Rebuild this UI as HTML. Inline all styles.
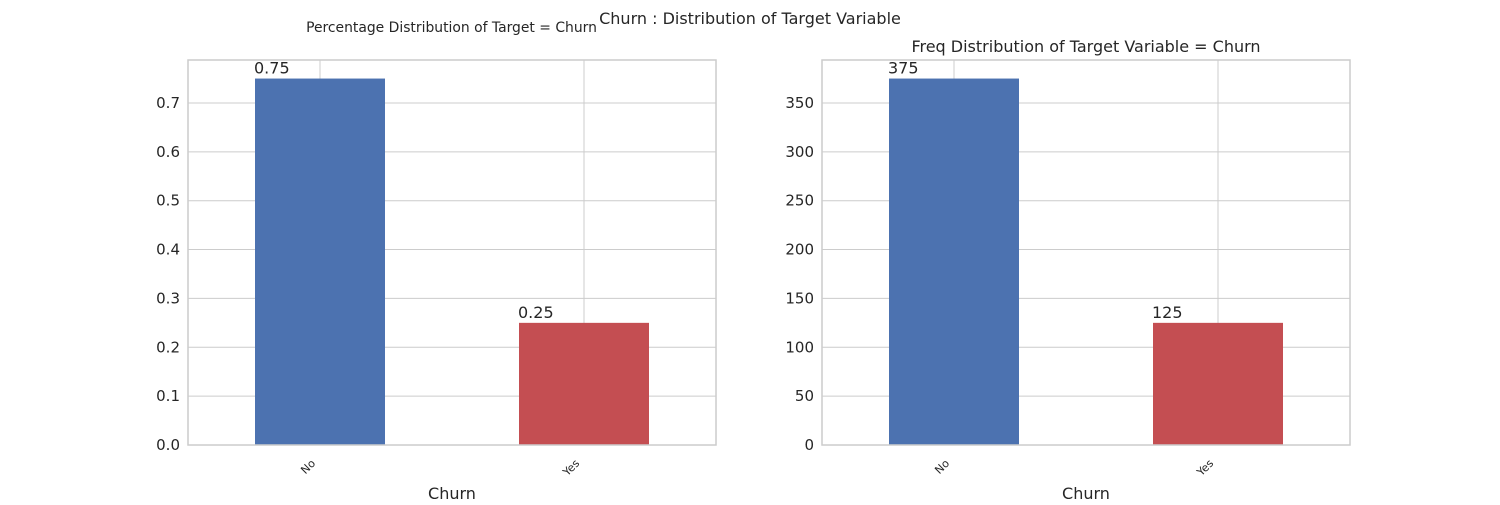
<!DOCTYPE html>
<html><head><meta charset="utf-8"><style>
body{margin:0;background:#fff;}
svg text{font-family:"DejaVu Sans","Liberation Sans",sans-serif;fill:#262626;}
</style></head><body>
<svg id="chart" width="1500" height="500" xmlns="http://www.w3.org/2000/svg">
<rect width="1500" height="500" fill="#fff"/>
<text x="750" y="24" font-size="16" text-anchor="middle">Churn : Distribution of Target Variable</text>
</svg>
<script>
const categories = ["No", "Yes"];
const pctValues = [0.75, 0.25];
const pctLabels = ["0.75", "0.25"];
const freqValues = [375, 125];
const freqLabels = ["375", "125"];
const pctTicks = [0, 0.1, 0.2, 0.3, 0.4, 0.5, 0.6, 0.7];
const pctTickLabels = ["0.0","0.1","0.2","0.3","0.4","0.5","0.6","0.7"];
const freqTicks = [0, 50, 100, 150, 200, 250, 300, 350];
const freqTickLabels = ["0","50","100","150","200","250","300","350"];
const colors = ["#4c72b0", "#c44e52"];

const svg = document.getElementById('chart');
const NS = 'http://www.w3.org/2000/svg';
function mk(tag, attrs, parent){
  const e = document.createElementNS(NS, tag);
  for (const k in attrs) e.setAttribute(k, attrs[k]);
  (parent||svg).appendChild(e);
  return e;
}
function panel(prefix, x0, title, titleX, titleSize, vals, labels, ticks, tickLabels, perUnitPx, unit){
  const top = 60, bottom = 445, w = 528;
  const g = mk('g', {});
  
  
  const y = v => bottom - v / unit * perUnitPx;
  const xc = i => x0 + (i + 0.5) / 2 * w;
  ticks.forEach((t, i) => {
    const l = mk('line', {x1:x0, x2:x0+w, y1:y(t), y2:y(t), stroke:'#cccccc', 'stroke-width':1}, g);
    
    
    const tx = mk('text', {x:x0-8, y:y(t)+5, 'font-size':15, 'text-anchor':'end'}, g);
    tx.textContent = tickLabels[i];
    
    
  });
  categories.forEach((c, i) => {
    const l = mk('line', {x1:xc(i), x2:xc(i), y1:top, y2:bottom, stroke:'#cccccc', 'stroke-width':1}, g);
    
    
  });
  categories.forEach((c, i) => {
    const bw = 130;
    const r = mk('rect', {x:xc(i)-bw/2, y:y(vals[i]), width:bw, height:bottom-y(vals[i]), fill:colors[i]}, g);
    
    
    const lt = mk('text', {x:xc(i)-bw/2-1, y:y(vals[i])-5, 'font-size':16}, g);
    lt.textContent = labels[i];
    
    
    const tk = mk('text', {x:xc(i)-4, y:bottom+19, 'font-size':11, 'text-anchor':'end', transform:'rotate(-45 '+(xc(i)-4)+' '+(bottom+19)+')'}, g);
    tk.textContent = c;
    
    
  });
  const fr = mk('rect', {x:x0, y:top, width:w, height:bottom-top, fill:'none', stroke:'#cccccc', 'stroke-width':1.5}, g);
  
  
  const xl = mk('text', {x:x0+w/2, y:499, 'font-size':16, 'text-anchor':'middle'}, g);
  xl.textContent = 'Churn';
  
  
  const tt = mk('text', {x:titleX, y:titleSize>14?52:32, 'font-size':titleSize, 'text-anchor':'middle'}, g);
  tt.textContent = title;
  
  
}
panel('percentage', 188, 'Percentage Distribution of Target = Churn', 451.5, 13.9, pctValues, pctLabels, pctTicks, pctTickLabels, 48.86, 0.1);
panel('frequency', 822, 'Freq Distribution of Target Variable = Churn', 1086, 16, freqValues, freqLabels, freqTicks, freqTickLabels, 48.86, 50);
</script>
</body></html>
